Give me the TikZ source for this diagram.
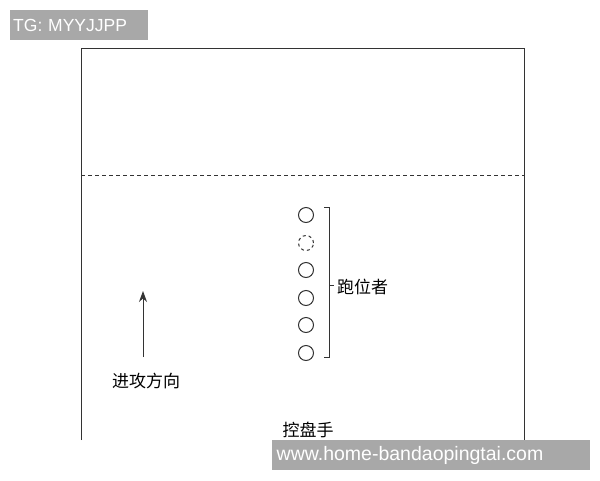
\documentclass[tikz,border=0pt]{standalone}
\usepackage{fontspec}
\setmainfont{Liberation Sans}
\newfontfamily\cjk{Noto Sans CJK SC}
\usetikzlibrary{arrows.meta}
\definecolor{wmgray}{HTML}{A8A8A8}
\definecolor{linegray}{HTML}{333333}
\begin{document}
\begin{tikzpicture}[x=1pt,y=-1pt,
  frameline/.style={draw=linegray,line width=1pt},
  player/.style={circle,draw=linegray,line width=1pt,minimum size=15pt,inner sep=0pt},
  ghost/.style={player,dashed},
  cnlabel/.style={font=\cjk\fontsize{17}{17}\selectfont,text=black,inner sep=0pt},
  wmbox/.style={fill=wmgray,text=white,inner sep=0pt,anchor=west}]
\useasboundingbox (0,0) rectangle (600,480);
% field
\coordinate (bl) at (81,440);
\coordinate (tl) at (81,48);
\coordinate (tr) at (524,48);
\coordinate (br) at (524,440);
\draw[frameline] (bl) -- (tl) -- (tr) -- (br);
\coordinate (dl) at (81,175);
\coordinate (dr) at (524,175);
\draw[draw=linegray,line width=1pt,dash pattern=on 4pt off 3pt] (dl) -- (dr);
% players
\node[player] (p1) at (306,215) {};
\node[ghost]  (p2) at (306,243) {};
\node[player] (p3) at (306,270) {};
\node[player] (p4) at (306,298) {};
\node[player] (p5) at (306,325) {};
\node[player] (p6) at (306,353) {};
% bracket
\coordinate (bt0) at (324,207);
\coordinate (bt) at (329,207);
\coordinate (bb) at (329,357);
\coordinate (bb0) at (324,357);
\coordinate (bm) at (329,285);
\coordinate (bm1) at (334,285);
\draw[frameline] (bt0) -- (bt) -- (bb) -- (bb0);
\draw[frameline] (bm) -- (bm1);
\node[cnlabel,anchor=west] (runner) at (337,287) {跑位者};
% arrow
\coordinate (a0) at (143,357);
\coordinate (a1) at (143,291);
\draw[frameline,-{Stealth[length=11pt,width=8pt]}] (a0) -- (a1);
\node[cnlabel] (dir) at (146,381) {进攻方向};
\node[cnlabel] (pg) at (308,430) {控盘手};
% watermarks
\node[wmbox,font=\fontsize{17.5}{17.5}\selectfont,minimum width=138pt,minimum height=30pt,text width=132pt,align=left,inner xsep=3pt] (tg) at (10,25) {TG: MYYJJPP};
\node[wmbox,font=\fontsize{19.5}{19.5}\selectfont,minimum width=318pt,minimum height=30pt,text width=309pt,align=left,inner xsep=4.5pt] (www) at (272,455) {www.home-bandaopingtai.com};
\end{tikzpicture}
\end{document}
